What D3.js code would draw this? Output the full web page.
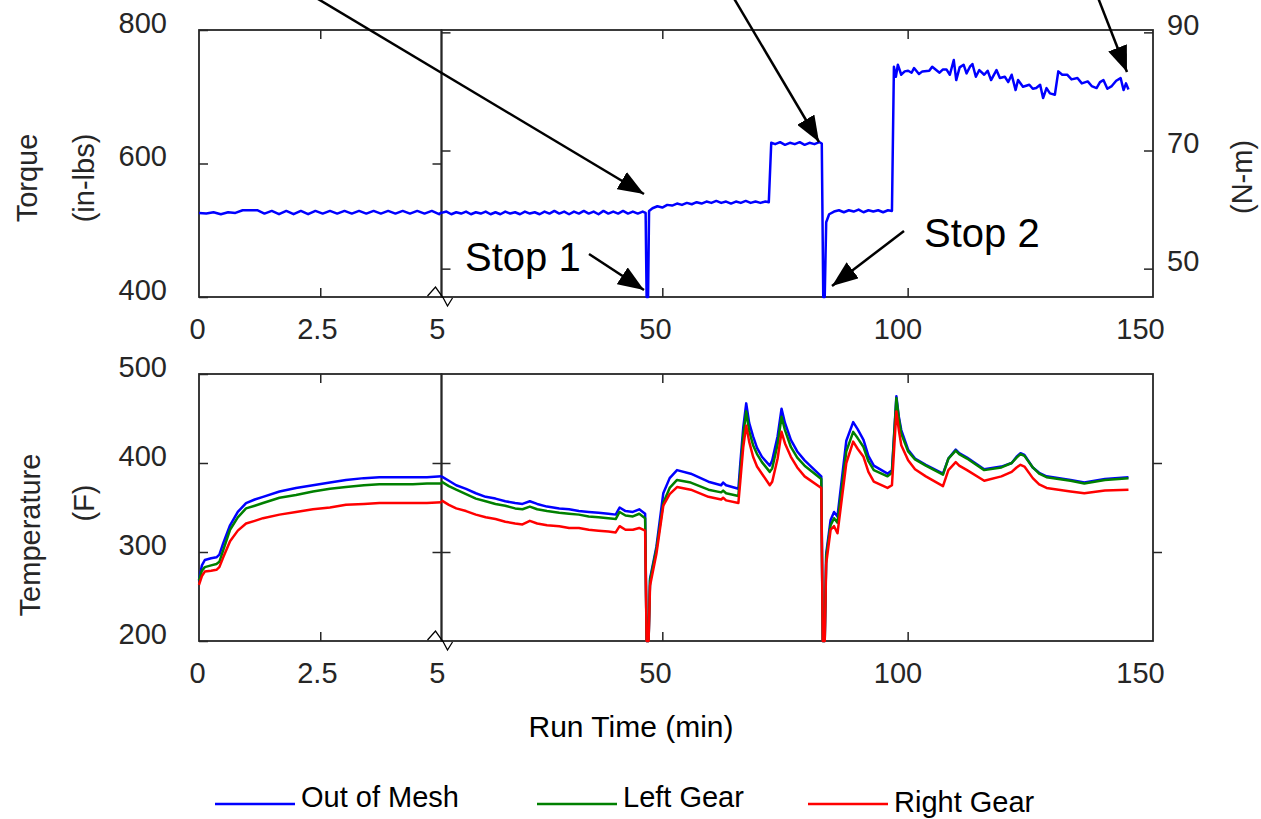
<!DOCTYPE html>
<html>
<head>
<meta charset="utf-8">
<script src="https://cdn.jsdelivr.net/npm/d3@7"></script>
<style>
  body { margin: 0; background: #fff; }
  svg text { font-family: "Liberation Sans", Arial, sans-serif; }
</style>
</head>
<body>
<svg id="chart" width="1261" height="819"></svg>
<script>
// ---- torque (in-lbs), 0-5 min segment
const torqueLeftTime = [0,0.15,0.3,0.45,0.6,0.75,0.9,1.05,1.2,1.35,1.5,1.65,1.8,1.95,2.1,2.25,2.4,2.55,2.7,2.85,
  3,3.15,3.3,3.45,3.6,3.75,3.9,4.05,4.2,4.35,4.5,4.65,4.8,4.95,5];
const torqueLeft = [526,525,527,524,527,526,530,530,530,525,529,524,529,524,529,524,529,525,529,525,
  529,525,529,525,529,525,529,525,529,525,529,525,529,524,527];

// ---- torque (in-lbs), 5-150 min segment
const torqueRightTime = [5,6,7,8,9,10,11,12,13,14,15,16,17,18,19,20,21,22,23,24,25,26,27,28,29,30,
  31,32,33,34,35,36,37,38,39,40,41,42,43,44,45,46,
  46.6,46.8,47.1,47.3,
  48,49,50,51,52,53,54,55,56,57,58,59,60,61,62,63,64,65,66,67,68,69,70,71,71.7,
  72.2,73,74,75,76,77,78,79,80,81,82,82.5,
  82.8,83.1,83.4,
  84,85,86,87,88,89,90,91,92,93,94,95,96,96.8,
  97.2,97.6,98,98.7,99.4,100.1,100.8,101.3,102.3,103,
  104.4,105,106.5,107.2,107.9,108.6,109.4,109.9,110.6,111.4,
  112,112.7,113.2,113.9,114.6,115.6,116.3,117,118.1,118.8,
  119.8,120.5,121.2,122,122.5,123.5,124.8,125.5,126.2,127,
  127.6,128.3,129,130,130.7,131.5,132.5,133.4,134.6,135.5,
  136.7,137.5,138.5,139.2,139.9,140.7,141.6,142.5,143.4,144,
  144.5,145];
const torqueRight = [526,528,524,527,525,528,524,527,525,528,524,527,524,528,525,527,524,528,525,527,524,528,525,529,525,528,
  524,528,525,529,525,528,524,529,525,528,525,529,525,528,525,528,
  526,400,400,529,
  533,536,534,538,537,540,538,541,539,542,540,543,541,544,541,543,540,543,541,544,541,543,541,543,542,
  631,629,632,628,631,629,632,628,631,629,632,630,
  400,400,512,
  524,528,530,527,530,528,531,527,530,528,530,527,530,529,
  745,730,748,733,738,739,736,743,734,738,
  739,745,736,741,741,733,755,725,744,748,
  735,745,749,730,740,733,739,725,740,728,
  730,722,733,710,725,715,718,712,713,718,
  698,713,705,703,738,733,733,726,728,720,
  723,716,713,722,725,712,716,724,728,710,
  720,711];

// ---- temperature (F), 0-5 min segment
const tempLeftTime = [0,0.06,0.12,0.25,0.36,0.42,0.5,0.64,0.8,0.97,1.15,1.32,1.66,2,2.35,2.7,3.03,3.4,3.72,4.05,4.41,4.7,5];
const meshLeft      = [268,285,291,293,294,297,310,330,345,355,359,362,368,372,375,378,381,383,384,384,384,384,385];
const leftGearLeft  = [268,279,283,285,286.5,289,302,325,339,349,352,355,361,364,368,371,373,375,376,376,376,377,377];
const rightGearLeft = [263,273,278,279,280,283,294,312,324,332,335,338,342,345,348,350,353,354,355,355,355,355,356];

// ---- temperature (F), 5-150 min segment
const tempRightTime = [5,6.5,8,10,12,14,16,18,20,21.5,
  23,24.5,26.5,29,31,33,35,37,39,40.5,
  41.3,42.5,44,45.3,46.5,46.8,47.2,47.5,48.8,50.2,
  51.5,53,55.8,59.4,62,62.4,63,65.5,65.9,66.5,
  67.1,67.7,68.5,69.3,70.3,71.9,72.4,73.5,74.3,75,
  76.2,77.5,79,82.4,82.7,83.1,83.4,84.3,85,85.7,
  87.5,88.9,89.8,91,92,93.1,95.9,96.8,97.7,98.2,
  98.7,100.1,101.5,103.7,107.2,108.3,109.8,110.5,112.1,115.6,
  119.1,121.2,122.2,123,123.8,125.5,126.8,128.3,133.2,136,
  140.2,145];
const meshRight = [385,380,375,371,366,362,360,357,355,354,
  357,354,351,349,348,346,345,344,343,342,
  350,346,345,348,343,200,200,270,306,366,
  383,392,388,379,375,378,375,371,400,440,
  467,445,430,417,407,397,403,430,461,445,
  426,413,403,385,200,200,298,336,345,340,
  425,446,438,426,408,397,388,392,475,452,
  437,415,405,398,388,405,415,411,406,393,
  396,400,407,411,409,395,389,385,381,378,
  382,384];
const leftGearRight = [379,374,370,365,360,357,354,352,349,348,
  351,348,346,344,343,342,340,339,338,337,
  345,341,340,343,338,200,200,268,303,355,
  372,381,378,370,367,369,366,363,390,431,
  458,436,420,410,401,390,394,421,452,437,
  418,406,397,382,200,200,295,330,338,333,
  413,435,428,418,402,392,385,389,473,450,
  433,413,404,397,387,405,414,410,405,392,
  395,400,406,410,408,395,388,384,380,377,
  381,383];
const rightGearRight = [358,353,349,346,342,339,337,334,332,331,
  335,332,330,329,327,327,325,324,323,322,
  329,325,325,327,324,200,200,262,298,352,
  365,373,370,362,359,361,358,355,380,418,
  442,424,407,396,388,375,379,405,435,422,
  407,395,385,372,200,200,287,325,329,321,
  400,424,416,407,390,379,372,375,458,437,
  420,403,393,385,374,392,401,397,392,380,
  385,390,395,398,396,383,376,372,368,366,
  369,370];

const seriesNames = ["Out of Mesh", "Left Gear", "Right Gear"];
const seriesColors = ["#0000ff", "#008000", "#ff0000"];

const svg = d3.select("#chart");
const ink = "#262626";
const font = '"Liberation Sans", Arial, sans-serif';

const xL = d3.scaleLinear().domain([0, 5]).range([199, 441.5]);
const xR = d3.scaleLinear().domain([5, 150]).range([441.5, 1153]);
const yTorque = d3.scaleLinear().domain([400, 800]).range([297, 30]);
const yNm = d3.scaleLinear().domain([400 * 0.113, 800 * 0.113]).range([297, 30]);
const yTemp = d3.scaleLinear().domain([200, 500]).range([641, 374]);

// labels in the original sit a little left of their ticks, more so to the right
function labelShift(px) { return -2 - 11 * (px - 199) / 954; }

function addAxis(gen, tx, ty) {
  const g = svg.append("g")
    .attr("transform", `translate(${tx},${ty})`)
    .call(gen)
    .attr("font-family", font)
    .attr("font-size", 29);
  g.select(".domain").remove();
  g.selectAll(".tick line").attr("stroke", ink).attr("stroke-width", 1.5);
  g.selectAll(".tick text").attr("fill", ink);
  return g;
}

function segment(x, y, xTicks, xLabelTicks) {
  const [x0, x1] = x.range();
  const [y0, y1] = y.range();
  svg.append("rect")
    .attr("x", x0).attr("y", y1)
    .attr("width", x1 - x0).attr("height", y0 - y1)
    .attr("fill", "none").attr("stroke", ink).attr("stroke-width", 1.8);
  addAxis(d3.axisTop(x).tickValues(xTicks).tickSize(-9).tickFormat(""), 0, y1);
  addAxis(d3.axisBottom(x).tickValues(xTicks).tickSize(-9).tickFormat(""), 0, y0);
  addAxis(d3.axisBottom(x).tickValues(xLabelTicks).tickSize(0).tickPadding(21).tickFormat(d => d), 0, y0)
    .selectAll(".tick text").attr("dx", d => labelShift(x(d)));
}

function yLabels(gen, tx) {
  addAxis(gen, tx, 0).selectAll(".tick text").attr("y", -7);
}

// ---------- top panel: torque ----------
segment(xL, yTorque, [2.5], [0, 2.5, 5]);
segment(xR, yTorque, [50, 100], [50, 100, 150]);
yLabels(d3.axisLeft(yTorque).tickValues([400, 600, 800]).tickSize(-9).tickPadding(32), 199);
addAxis(d3.axisRight(yTorque).tickValues([600]).tickSize(-9).tickFormat(""), 441.5, 0);
addAxis(d3.axisRight(yNm).tickValues([50, 70, 90]).tickSize(9).tickFormat(""), 441.5, 0);
yLabels(d3.axisRight(yNm).tickValues([50, 70, 90]).tickSize(-9).tickPadding(14), 1153);

// ---------- bottom panel: temperature ----------
segment(xL, yTemp, [2.5], [0, 2.5, 5]);
segment(xR, yTemp, [50, 100], [50, 100, 150]);
yLabels(d3.axisLeft(yTemp).tickValues([200, 300, 400, 500]).tickSize(-9).tickPadding(32), 199);
addAxis(d3.axisRight(yTemp).tickValues([300, 400]).tickSize(-9).tickFormat(""), 441.5, 0);
addAxis(d3.axisRight(yTemp).tickValues([300, 400]).tickSize(9).tickFormat(""), 441.5, 0);
addAxis(d3.axisLeft(yTemp).tickValues([300, 400]).tickSize(-9).tickFormat(""), 1153, 0);

// axis break marks
[297, 641].forEach(yb => {
  const pts = [[-14, -1], [-6, -10], [1.5, 0.5], [6, 9], [11, 1]];
  svg.append("path")
    .attr("d", d3.line()(pts.map(p => [441.5 + p[0], yb + p[1]])))
    .attr("fill", "none").attr("stroke", "#000").attr("stroke-width", 1.3);
});

// ---------- data lines ----------
function drawLine(times, values, x, y, color) {
  const line = d3.line().x((d, i) => x(times[i])).y(d => y(d));
  svg.append("path")
    .attr("d", line(values))
    .attr("fill", "none")
    .attr("stroke", color)
    .attr("stroke-width", 2.5)
    .attr("stroke-linejoin", "round");
}

drawLine(torqueLeftTime, torqueLeft, xL, yTorque, seriesColors[0]);
drawLine(torqueRightTime, torqueRight, xR, yTorque, seriesColors[0]);

const leftSeries = [meshLeft, leftGearLeft, rightGearLeft];
const rightSeries = [meshRight, leftGearRight, rightGearRight];
leftSeries.forEach((s, i) => drawLine(tempLeftTime, s, xL, yTemp, seriesColors[i]));
rightSeries.forEach((s, i) => drawLine(tempRightTime, s, xR, yTemp, seriesColors[i]));

// ---------- annotations ----------
svg.append("defs").append("marker")
  .attr("id", "head")
  .attr("markerUnits", "userSpaceOnUse")
  .attr("viewBox", "0 0 26 20")
  .attr("markerWidth", 26).attr("markerHeight", 20)
  .attr("refX", 26).attr("refY", 10)
  .attr("orient", "auto")
  .append("path").attr("d", "M0,0 L26,10 L0,20 Z").attr("fill", "#000");

const arrows = [
  [303, -10, 644, 194],
  [729, -10, 819, 142],
  [1095, -10, 1127, 72],
  [589, 254, 644, 290],
  [904, 231, 832, 286]
];
arrows.forEach(a => {
  svg.append("line")
    .attr("x1", a[0]).attr("y1", a[1]).attr("x2", a[2]).attr("y2", a[3])
    .attr("stroke", "#000").attr("stroke-width", 2.5)
    .attr("marker-end", "url(#head)");
});

svg.append("text").attr("x", 465).attr("y", 271).attr("font-size", 40).attr("fill", "#000").text("Stop 1");
svg.append("text").attr("x", 924).attr("y", 247).attr("font-size", 40).attr("fill", "#000").text("Stop 2");

// ---------- axis titles ----------
function vText(x, y, str) {
  svg.append("text")
    .attr("transform", `translate(${x},${y}) rotate(-90)`)
    .attr("text-anchor", "middle")
    .attr("font-size", 29)
    .attr("fill", ink)
    .text(str);
}
vText(37, 178, "Torque");
vText(94, 178, "(in-lbs)");
vText(40, 535, "Temperature");
vText(94, 503, "(F)");
vText(1252, 177, "(N-m)");

svg.append("text")
  .attr("x", 631).attr("y", 737)
  .attr("text-anchor", "middle")
  .attr("font-size", 30)
  .attr("fill", "#000")
  .text("Run Time (min)");

// ---------- legend ----------
const legendX = [215, 537, 808];
const legendTextY = [807, 807, 812];
seriesNames.forEach((name, i) => {
  svg.append("line")
    .attr("x1", legendX[i]).attr("x2", legendX[i] + 80)
    .attr("y1", 804).attr("y2", 804)
    .attr("stroke", seriesColors[i]).attr("stroke-width", 2.5);
  svg.append("text")
    .attr("x", legendX[i] + 86).attr("y", legendTextY[i])
    .attr("font-size", 29)
    .attr("fill", "#000")
    .text(name);
});
</script>
</body>
</html>
